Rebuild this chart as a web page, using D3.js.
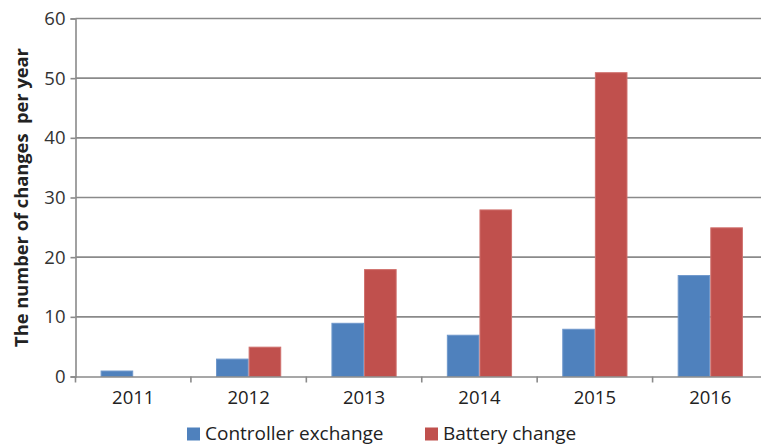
<!DOCTYPE html>
<html><head><meta charset="utf-8">
<script src="https://cdn.jsdelivr.net/npm/d3@7"></script>
<style>
html,body{margin:0;padding:0;background:#fff;}
svg{display:block;font-family:"Open Sans","DejaVu Sans",sans-serif;}
</style></head>
<body>
<svg id="chart" width="761" height="446"></svg>
<script>
const categories = ["2011","2012","2013","2014","2015","2016"];
const seriesNames = ["Controller exchange","Battery change"];
const controllerValues = [1,3,9,7,8,17];
const batteryValues = [0,5,18,28,51,25];
const yTicks = [0,10,20,30,40,50,60];
const yTitle = "The number of changes  per year";
const colors = ["#4F81BD","#C0504D"];
const strokes = ["#6E97CB","#D0706D"];

(function(){
const svg = d3.select("#chart");
const mLeft = 75.5, mRight = 768, mTop = 18.5, mBottom = 376.5;
const font = '"Open Sans","DejaVu Sans",sans-serif';

const x = d3.scaleBand().domain(categories).range([mLeft, mRight]).paddingInner(0).paddingOuter(0);
const y = d3.scaleLinear().domain([0,60]).range([mBottom, mTop]);
const groupW = x.bandwidth() * 0.565;
const x1 = d3.scaleBand().domain([0,1]).range([0, groupW]).padding(0);

svg.append("g").selectAll("line").data(yTicks.filter(d=>d>0)).join("line")
  .attr("x1", mLeft).attr("x2", mRight)
  .attr("y1", d=>y(d)).attr("y2", d=>y(d))
  .attr("stroke", "#8a8a8a").attr("stroke-width", 1.6);

const series = [controllerValues, batteryValues];
const g = svg.append("g");
series.forEach((vals, si) => {
  g.selectAll(null).data(categories.map((c,i)=>({c, v: vals[i]})).filter(d=>d.v>0)).join("rect")
    .attr("x", d => x(d.c) + (x.bandwidth()-groupW)/2 + x1(si) + 0.5)
    .attr("width", x1.bandwidth() - 1)
    .attr("y", d => y(d.v) + 0.5)
    .attr("height", d => y(0) - y(d.v) - 0.5)
    .attr("fill", colors[si])
    .attr("stroke", strokes[si]).attr("stroke-width", 1);
});

const yAxis = d3.axisLeft(y).tickValues(yTicks).tickSize(5).tickPadding(5).tickFormat(d3.format("d"));
const ya = svg.append("g").attr("transform", `translate(${mLeft},0)`).call(yAxis);
ya.select(".domain").attr("stroke", "#8a8a8a").attr("stroke-width", 1.6);
ya.selectAll(".tick line").attr("stroke", "#8a8a8a").attr("stroke-width", 1.6);
ya.selectAll(".tick text").attr("font-size", 18.5).attr("fill", "#333").attr("font-family", font);

const xAxis = d3.axisBottom(x).tickSize(0).tickPadding(14);
const xa = svg.append("g").attr("transform", `translate(0,${mBottom})`).call(xAxis);
xa.select(".domain").attr("stroke", "#8a8a8a").attr("stroke-width", 1.6);
xa.selectAll(".tick text").attr("font-size", 18.5).attr("fill", "#222").attr("font-family", font);
svg.append("g").selectAll("line").data(categories).join("line")
  .attr("x1", d=>x(d)).attr("x2", d=>x(d))
  .attr("y1", mBottom).attr("y2", mBottom+6)
  .attr("stroke", "#8a8a8a").attr("stroke-width", 1.6);

svg.append("text")
  .attr("transform", `translate(28,${(mTop+mBottom)/2}) rotate(-90)`)
  .attr("text-anchor", "middle")
  .attr("font-size", 18.3).attr("font-weight", "bold").attr("fill", "#222")
  .style("white-space", "pre")
  .text(yTitle);

const legendItems = [{name: seriesNames[0], x: 187}, {name: seriesNames[1], x: 425}];
const lg = svg.append("g");
legendItems.forEach((it, i) => {
  lg.append("rect").attr("x", it.x).attr("y", 427.5).attr("width", 13).attr("height", 13).attr("fill", colors[i]);
  lg.append("text").attr("x", it.x + 18).attr("y", 440).attr("font-size", 19).attr("fill", "#222").text(it.name);
});
})();
</script>
</body></html>
